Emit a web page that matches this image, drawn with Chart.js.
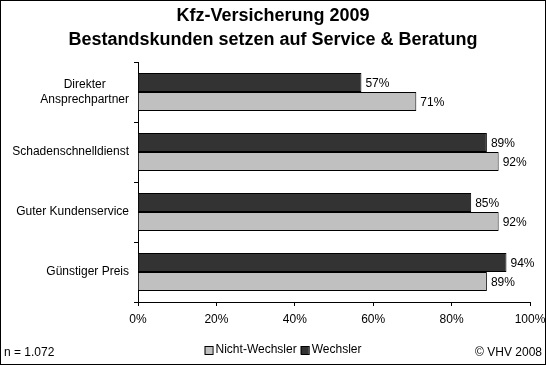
<!DOCTYPE html>
<html>
<head>
<meta charset="utf-8">
<script src="https://cdn.jsdelivr.net/npm/chart.js@4"></script>
<style>
  html, body { margin: 0; padding: 0; background: #fff; }
  canvas { display: block; }
</style>
</head>
<body>
<canvas id="chart" width="546" height="365"></canvas>
<script>
const categories = [["Direkter", "Ansprechpartner"], "Schadenschnelldienst", "Guter Kundenservice", "Günstiger Preis"];
const wechsler = [57, 89, 85, 94];
const nichtWechsler = [71, 92, 92, 89];
const xMin = 0, xMax = 100, xStep = 20;
const titleLines = ["Kfz-Versicherung 2009", "Bestandskunden setzen auf Service & Beratung"];
const sampleNote = "n = 1.072";
const sourceNote = "© VHV 2008";

const FONT = "'Liberation Sans', Arial, sans-serif";

// pad shorter lines with spaces so a right-aligned multi-line label looks centred
function centerLines(lines) {
  const ctx = document.createElement("canvas").getContext("2d");
  ctx.font = "12px " + FONT;
  const widest = Math.max(...lines.map(l => ctx.measureText(l).width));
  const space = ctx.measureText(" ").width;
  return lines.map(l => l + " ".repeat(Math.round((widest - ctx.measureText(l).width) / 2 / space)));
}

const valueLabels = {
  id: "valueLabels",
  afterDatasetsDraw(chart) {
    const ctx = chart.ctx;
    ctx.save();
    ctx.font = "12px " + FONT;
    ctx.fillStyle = "#000";
    ctx.textAlign = "left";
    ctx.textBaseline = "middle";
    chart.data.datasets.forEach((ds, i) => {
      chart.getDatasetMeta(i).data.forEach((bar, j) => {
        ctx.fillText(ds.data[j] + "%", bar.x + 4, bar.y + 1);
      });
    });
    ctx.restore();
  }
};

const footer = {
  id: "footer",
  afterDraw(chart) {
    const ctx = chart.ctx;
    ctx.save();
    ctx.font = "12px " + FONT;
    ctx.textBaseline = "middle";
    ctx.fillStyle = "#000";

    // legend, Nicht-Wechsler first
    const items = chart.data.datasets.slice().reverse();
    const box = 8, gap = 3, itemGap = 4;
    let total = 0;
    items.forEach((ds, k) => {
      total += box + gap + ctx.measureText(ds.label).width + (k < items.length - 1 ? itemGap : 0);
    });
    let x = 283 - total / 2;
    const ly = 350;
    items.forEach(ds => {
      ctx.fillStyle = ds.backgroundColor;
      ctx.fillRect(x, ly - box / 2, box, box);
      ctx.strokeStyle = "#000";
      ctx.lineWidth = 1;
      ctx.strokeRect(x + 0.5, ly - box / 2 + 0.5, box, box);
      x += box + gap;
      ctx.fillStyle = "#000";
      ctx.textAlign = "left";
      ctx.fillText(ds.label, x, ly);
      x += ctx.measureText(ds.label).width + itemGap;
    });

    ctx.textAlign = "left";
    ctx.fillText(sampleNote, 4, 353);
    ctx.textAlign = "right";
    ctx.fillText(sourceNote, 542, 353);

    // frame around the whole picture
    ctx.strokeStyle = "#000";
    ctx.lineWidth = 1;
    ctx.strokeRect(0.5, 0.5, chart.width - 1, chart.height - 1);
    ctx.restore();
  }
};

new Chart(document.getElementById("chart"), {
  type: "bar",
  data: {
    labels: categories,
    datasets: [
      {
        label: "Wechsler",
        data: wechsler,
        backgroundColor: "#333333",
        borderColor: "#000",
        borderWidth: 1
      },
      {
        label: "Nicht-Wechsler",
        data: nichtWechsler,
        backgroundColor: "#c0c0c0",
        borderColor: "#000",
        borderWidth: 1
      }
    ]
  },
  options: {
    indexAxis: "y",
    responsive: false,
    animation: false,
    devicePixelRatio: 1,
    categoryPercentage: 0.633,
    barPercentage: 1,
    layout: { padding: 0 },
    plugins: {
      legend: { display: false },
      tooltip: { enabled: false },
      title: {
        display: true,
        text: titleLines,
        color: "#000",
        font: { family: FONT, size: 18, weight: "bold", lineHeight: 24 / 18 },
        padding: { top: 4, bottom: 10 }
      }
    },
    scales: {
      x: {
        min: xMin,
        max: xMax,
        ticks: {
          stepSize: xStep,
          color: "#000",
          font: { family: FONT, size: 12 },
          padding: 6,
          callback: v => v + "%"
        },
        grid: { drawOnChartArea: false, drawTicks: true, tickLength: 4, color: "#000" },
        border: { display: true, color: "#000" },
        afterFit(scale) {
          scale.height = 63;
          scale.paddingRight = 16;
        }
      },
      y: {
        ticks: {
          color: "#000",
          font: { family: FONT, size: 12 },
          padding: 5,
          callback(value) {
            const l = this.getLabelForValue(value);
            return Array.isArray(l) ? centerLines(l) : l;
          }
        },
        grid: { drawOnChartArea: false, drawTicks: true, tickLength: 4, color: "#000" },
        border: { display: true, color: "#000" },
        afterFit(scale) { scale.width = 138; }
      }
    }
  },
  plugins: [valueLabels, footer]
});
</script>
</body>
</html>
